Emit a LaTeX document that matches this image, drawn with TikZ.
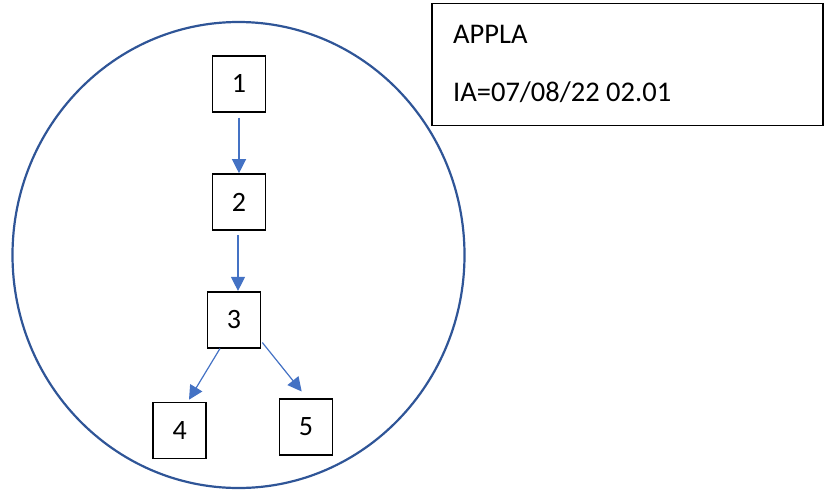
\documentclass[tikz,border=0pt]{standalone}
\usepackage{fontspec}
\setmainfont{Carlito}
\usetikzlibrary{shapes.geometric,arrows.meta,calc}
\definecolor{ringblue}{RGB}{47,85,151}
\definecolor{arrowblue}{RGB}{68,114,196}
\begin{document}
\begin{tikzpicture}[x=1pt,y=-1pt,
  numbox/.style={draw=black,line width=1.6pt,minimum width=53pt,minimum height=56pt,inner sep=0pt,font=\fontsize{28}{32}\selectfont},
  flow/.style={draw=arrowblue,line width=1.2pt,-{Triangle[length=14pt,width=14pt]}},
  infotext/.style={anchor=base west,inner sep=0pt,font=\fontsize{28.5}{32}\selectfont}]
\useasboundingbox (0,0) rectangle (824,491);
\node[ellipse,draw=ringblue,line width=2.2pt,minimum width=452pt,minimum height=466pt,inner sep=0pt] (ring) at (238.5,255) {};
\node[draw=black,line width=1.6pt,minimum width=391pt,minimum height=122pt,inner sep=0pt] (info) at (627.2,64.3) {};
\node[infotext] (l1) at (453,43.3) {APPLA};
\node[infotext] (l2) at (453,101.7) {IA=07/08/22 02.01};
\node[numbox] (b1) at (239,83.7) {1};
\node[numbox] (b2) at (239,202) {2};
\node[numbox] (b3) at (234,319.7) {3};
\node[numbox] (b4) at (179.7,430.5) {4};
\node[numbox] (b5) at (306,427) {5};
\draw[flow] ([yshift=-5pt]b1.south) -- (b2.north);
\draw[flow] ([xshift=4pt,yshift=-4pt]b3.north |- b2.south) -- ([xshift=4pt]b3.north);
\draw[flow] ([xshift=-14pt]b3.south) -- ([xshift=9.3pt,yshift=2pt]b4.north);
\draw[flow] ([xshift=1pt,yshift=6pt]b3.south east) -- ([xshift=-4.3pt,yshift=6.7pt]b5.north);
\end{tikzpicture}
\end{document}
